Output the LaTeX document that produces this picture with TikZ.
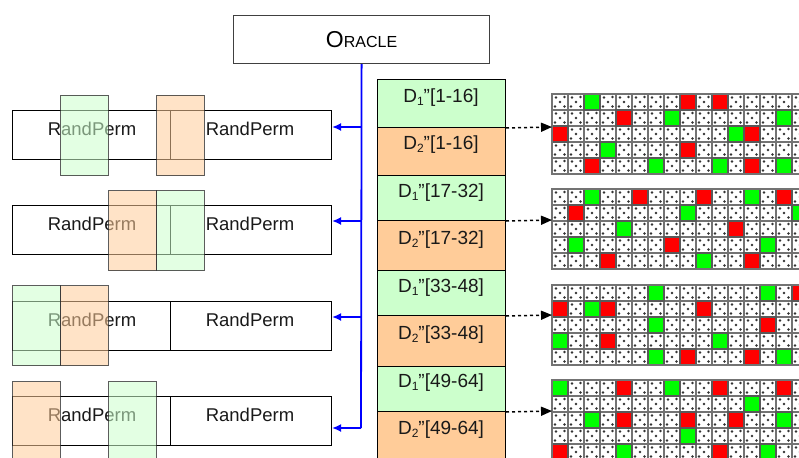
\documentclass[tikz,border=0pt]{standalone}
\usepackage{fontspec}
\setmainfont{Liberation Sans}
\usetikzlibrary{arrows.meta}

\definecolor{dgreen}{HTML}{CCFFCC}
\definecolor{dorange}{HTML}{FFCC99}
\definecolor{cellgreen}{HTML}{00FF00}
\definecolor{cellred}{HTML}{FF0000}
\definecolor{oblue}{HTML}{0000FF}

\tikzset{
  rowbox/.style={draw=black, line width=1pt, minimum width=319, minimum height=49, inner sep=0, anchor=north west},
  permtext/.style={font=\fontsize{18.5}{20}\selectfont, inner sep=0, text=black!90},
  permbox/.style={draw=black!80, line width=1pt, fill opacity=0.55, draw opacity=0.8,
    minimum width=47.5, minimum height=80, inner sep=0, anchor=north west},
  dcell/.style={draw=black, line width=1pt, minimum width=128, inner sep=0, anchor=north west},
  dtext/.style={font=\fontsize{19}{21}\selectfont, inner sep=0, text=black!90},
  feed/.style={draw=oblue, line width=1.8pt},
  feedarrow/.style={feed, -{Latex[length=9pt,width=8pt]}},
  dotlink/.style={line width=1.5pt, dash pattern=on 3pt off 3pt, -{Triangle[length=11pt,width=9pt]}},
  cellline/.style={draw=black!55, line width=1.3pt},
  hitcell/.style={draw=black!65, line width=1.2pt},
}

% one 16x5 block of cells: #1 name, #2 top, #3 green cells, #4 red cells
\newcommand{\paintgrid}[4]{%
  \coordinate (#1) at (552,#2);
  \foreach \cx in {0,...,15}{
    \foreach \cy in {0,...,4}{
      \begin{scope}[shift={(552+16*\cx,#2+16*\cy)}]
        \fill[white] (0,0) rectangle (16,16);
        \fill[black!80] (8,8) circle (1.4pt) (4,3.5) circle (1.3pt) (12.5,3) circle (1.3pt)
          (3,12.5) circle (1.3pt) (12.5,12.5) circle (1.3pt);
        \draw[cellline] (0,0) rectangle (16,16);
      \end{scope}
    }
  }
  \foreach \cx/\cy in {#3}
    \filldraw[hitcell, fill=cellgreen] (552+16*\cx,#2+16*\cy) rectangle ++(16,16);
  \foreach \cx/\cy in {#4}
    \filldraw[hitcell, fill=cellred] (552+16*\cx,#2+16*\cy) rectangle ++(16,16);
  \draw[black!55, line width=1.8pt] (552,#2) rectangle (808,#2+80);
}

\newcommand{\one}{\raisebox{-2.5pt}{\fontsize{12}{12}\selectfont 1}}
\newcommand{\two}{\raisebox{-2.5pt}{\fontsize{12}{12}\selectfont 2}}

\begin{document}
\begin{tikzpicture}[x=1pt,y=-1pt]
\useasboundingbox (0,0) rectangle (799,457);
\clip (0,0) rectangle (799,457);

% oracle
\node[draw=black!75, line width=1.2pt, minimum width=256, minimum height=48, inner sep=0,
  anchor=north west] (oracle) at (233,15)
  {{\fontsize{23}{24}\selectfont O}{\fontsize{16}{18}\selectfont RACLE}};

% permutation rows
\foreach \i/\t in {1/110,2/205,3/301,4/396}{
  \node[rowbox] (row\i) at (12,\t) {};
  \draw[line width=1pt] (170,\t) -- (170,\t+49);
  \node[permtext] (rpl\i) at (92,\t+19) {RandPerm};
  \node[permtext] (rpr\i) at (250,\t+19) {RandPerm};
}

% translucent blocks over the rows
\foreach \x/\t/\c [count=\k] in {60/95/dgreen, 156/95/dorange, 108/190/dorange, 156/190/dgreen,
    12/285/dgreen, 60/285/dorange, 12/381/dorange, 108/381/dgreen}
  \node[permbox, fill=\c] (pb\k) at (\x,\t) {};

% data column
\node[dcell, fill=dgreen, minimum height=48] (da1) at (377,79) {};
\node[dcell, fill=dorange, minimum height=48] (db1) at (377,127) {};
\node[dcell, fill=dgreen, minimum height=45] (da2) at (377,175) {};
\node[dcell, fill=dorange, minimum height=50] (db2) at (377,220) {};
\node[dcell, fill=dgreen, minimum height=45] (da3) at (377,270) {};
\node[dcell, fill=dorange, minimum height=51] (db3) at (377,315) {};
\node[dcell, fill=dgreen, minimum height=45] (da4) at (377,366) {};
\node[dcell, fill=dorange, minimum height=55] (db4) at (377,411) {};

\node[dtext] (ta1) at (441,98) {D\one"[1-16]};
\node[dtext] (tb1) at (441,145) {D\two"[1-16]};
\node[dtext] (ta2) at (441,193) {D\one"[17-32]};
\node[dtext] (tb2) at (441,240) {D\two"[17-32]};
\node[dtext] (ta3) at (441,288) {D\one"[33-48]};
\node[dtext] (tb3) at (441,335) {D\two"[33-48]};
\node[dtext] (ta4) at (441,383) {D\one"[49-64]};
\node[dtext] (tb4) at (441,430) {D\two"[49-64]};

% cell blocks
\paintgrid{g1}{94}{2/0,7/1,14/1,11/2,3/3,6/4,10/4,14/4}{8/0,10/0,4/1,0/2,12/2,8/3,2/4,12/4}
\paintgrid{g2}{189}{2/0,12/0,8/1,15/1,4/2,1/3,13/3,9/4}{5/0,9/0,14/0,1/1,11/2,7/3,3/4,12/4}
\paintgrid{g3}{285}{6/0,13/0,2/1,6/2,0/3,10/3,6/4,14/4}{15/0,0/1,3/1,9/1,13/2,3/3,8/4,12/4}
\paintgrid{g4}{380}{0/0,7/0,12/1,2/2,14/2,8/3,4/4,13/4}{4/0,10/0,14/0,4/2,8/2,11/2,0/4,10/4}

% links from the data column to the blocks
\coordinate (gin1) at (552,127);
\coordinate (gin2) at (552,220);
\coordinate (gin3) at (552,315);
\coordinate (gin4) at (552,411);
\draw[dotlink] (da1.south east) -- (gin1);
\draw[dotlink] (da2.south east) -- (gin2);
\draw[dotlink] (da3.south east) -- (gin3);
\draw[dotlink] (da4.south east) -- (gin4);

% oracle feed lines
\coordinate (jn1) at (361,127);
\coordinate (jn2) at (361,221);
\coordinate (jn3) at (361,317);
\coordinate (jn4) at (361,428);
\draw[feed] (oracle.south) -- (jn4);
\draw[feedarrow] (jn1) -- (jn1 -| row1.east);
\draw[feedarrow] (jn2) -- (jn2 -| row2.east);
\draw[feedarrow] (jn3) -- (jn3 -| row3.east);
\draw[feedarrow] (jn4) -- (jn4 -| row4.east);
\end{tikzpicture}
\end{document}
